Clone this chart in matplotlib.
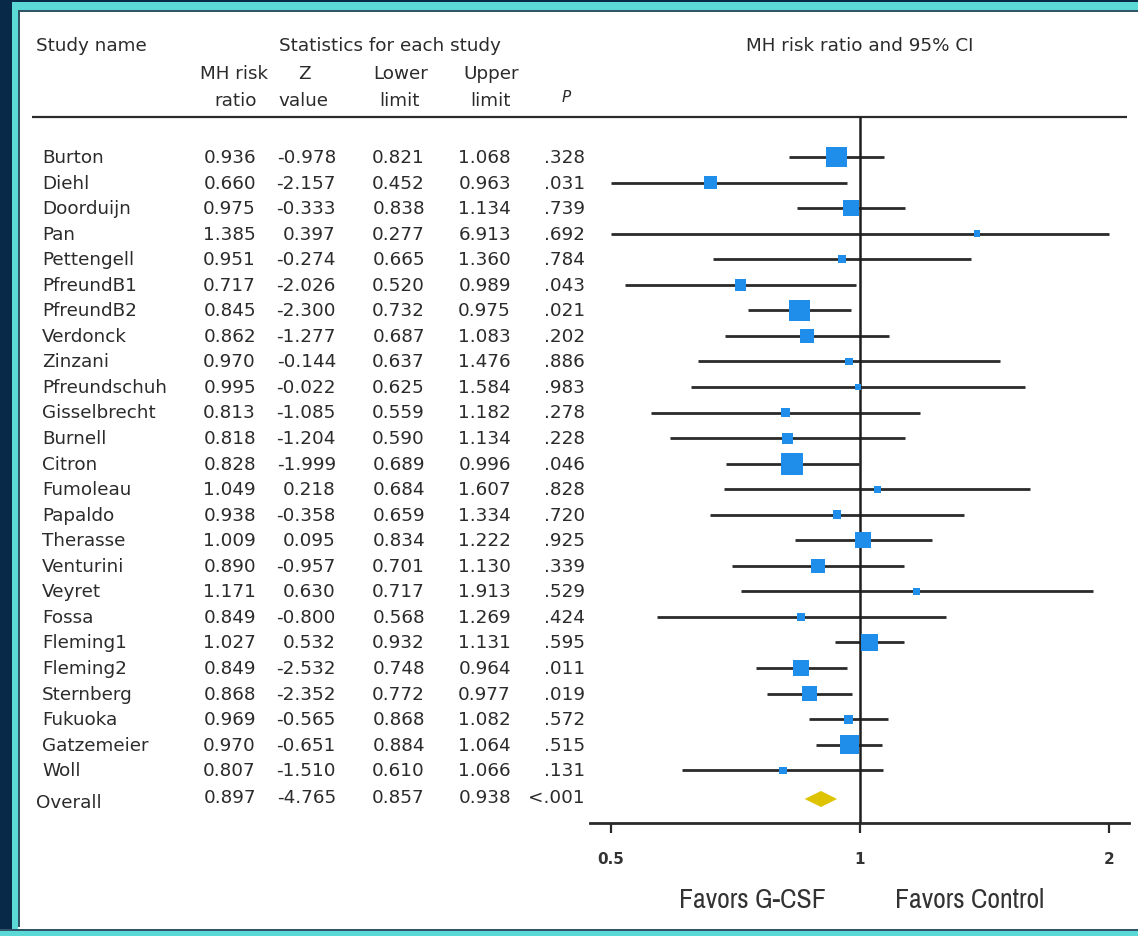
import numpy as np
import matplotlib
matplotlib.use("Agg")
import matplotlib.pyplot as plt
from matplotlib import font_manager
from matplotlib.patches import Rectangle, Polygon
from matplotlib.ticker import FixedLocator, FixedFormatter, NullLocator

# ---- study data ----
studies = ["Burton", "Diehl", "Doorduijn", "Pan", "Pettengell", "PfreundB1",
           "PfreundB2", "Verdonck", "Zinzani", "Pfreundschuh", "Gisselbrecht",
           "Burnell", "Citron", "Fumoleau", "Papaldo", "Therasse", "Venturini",
           "Veyret", "Fossa", "Fleming1", "Fleming2", "Sternberg", "Fukuoka",
           "Gatzemeier", "Woll"]
risk_ratio = [0.936, 0.660, 0.975, 1.385, 0.951, 0.717, 0.845, 0.862, 0.970,
              0.995, 0.813, 0.818, 0.828, 1.049, 0.938, 1.009, 0.890, 1.171,
              0.849, 1.027, 0.849, 0.868, 0.969, 0.970, 0.807]
z_value = [-0.978, -2.157, -0.333, 0.397, -0.274, -2.026, -2.300, -1.277,
           -0.144, -0.022, -1.085, -1.204, -1.999, 0.218, -0.358, 0.095,
           -0.957, 0.630, -0.800, 0.532, -2.532, -2.352, -0.565, -0.651, -1.510]
lower_limit = [0.821, 0.452, 0.838, 0.277, 0.665, 0.520, 0.732, 0.687, 0.637,
               0.625, 0.559, 0.590, 0.689, 0.684, 0.659, 0.834, 0.701, 0.717,
               0.568, 0.932, 0.748, 0.772, 0.868, 0.884, 0.610]
upper_limit = [1.068, 0.963, 1.134, 6.913, 1.360, 0.989, 0.975, 1.083, 1.476,
               1.584, 1.182, 1.134, 0.996, 1.607, 1.334, 1.222, 1.130, 1.913,
               1.269, 1.131, 0.964, 0.977, 1.082, 1.064, 1.066]
p_value = [".328", ".031", ".739", ".692", ".784", ".043", ".021", ".202",
           ".886", ".983", ".278", ".228", ".046", ".828", ".720", ".925",
           ".339", ".529", ".424", ".595", ".011", ".019", ".572", ".515", ".131"]
# relative study weights (%), shown as the area of each square
weight = [10.2, 3.9, 5.9, 1.0, 1.4, 3.3, 10.2, 4.5, 1.4, 0.9, 1.7, 2.8, 11.2,
          1.1, 1.7, 5.9, 4.5, 1.0, 1.4, 6.7, 5.9, 5.2, 1.9, 8.3, 1.2]

overall_label = "Overall"
overall_rr = 0.897
overall_z = -4.765
overall_lower = 0.857
overall_upper = 0.938
overall_p = "<.001"

x_ticks = [0.5, 1, 2]
x_tick_labels = ["0.5", "1", "2"]

# ---- canvas ----
W, H = 1138, 937
DPI = 100
fig = plt.figure(figsize=(W / DPI, H / DPI), dpi=DPI)
fig.patch.set_facecolor("white")

BODY = "DejaVu Sans"
INK = "#2b2b2b"
FS = 13.2


def pick_condensed():
    """Return (family, stretch) for a narrow sans face, if one is installed."""
    for f in font_manager.fontManager.ttflist:
        nm = f.name.lower()
        if ("narrow" in nm or "condensed" in nm) and f.style == "normal":
            return f.name, "normal"
    for f in font_manager.fontManager.ttflist:
        if str(f.stretch) in ("condensed", "semi-condensed") and f.style == "normal":
            return f.name, f.stretch
    return "Roboto", "normal"


NARROW, NARROW_STRETCH = pick_condensed()
NARROW_FS = 20 if NARROW != "Roboto" else 17

tab = fig.add_axes([0, 0, 1, 1])
tab.set_xlim(0, W)
tab.set_ylim(H, 0)
tab.axis("off")

# frame around the panel
NAVY, CYAN, EDGE = "#082a48", "#5ad9d6", "#2f5566"
for (x0, y0, w, h, c) in [
        (0, 0, W, 3, NAVY), (0, 3, W, 8, CYAN), (0, 11, W, 1.6, EDGE),
        (0, 0, 12, H, NAVY), (12, 3, 6.5, H - 3, CYAN), (18.5, 11, 1.5, H - 20, EDGE),
        (0, 930, W, 1.5, EDGE), (0, 931.5, W, 5.5, CYAN)]:
    tab.add_patch(Rectangle((x0, y0), w, h, facecolor=c, edgecolor="none", zorder=5))

# ---- row layout (pixel rows) ----
n = len(studies)
ROW0, STEP = 158.0, 25.55
rows_y = ROW0 + STEP * np.arange(n)
overall_y = 800.0

# column anchors
X_NAME = 42
X_RR, X_Z, X_LO, X_UP, X_P = 256, 336, 425, 511, 585


def put(x, y, s, ha="left", **kw):
    kw.setdefault("fontsize", FS)
    kw.setdefault("color", INK)
    kw.setdefault("family", BODY)
    tab.text(x, y, s, ha=ha, va="center", **kw)


# headers
put(36, 46, "Study name")
put(390, 46, "Statistics for each study", ha="center")
put(860, 46, "MH risk ratio and 95% CI", ha="center")
put(234, 74, "MH risk", ha="center")
put(236, 101, "ratio", ha="center")
put(304, 74, "Z", ha="center")
put(303, 101, "value", ha="center")
put(401, 74, "Lower", ha="center")
put(400, 101, "limit", ha="center")
put(491, 74, "Upper", ha="center")
put(491, 101, "limit", ha="center")
put(566, 98, "P", ha="center", style="italic", fontsize=11)
tab.plot([32, 1127], [118, 118], color=INK, lw=1.6, solid_capstyle="butt")

# table body
for i in range(n):
    y = rows_y[i]
    put(X_NAME, y, studies[i])
    put(X_RR, y, f"{risk_ratio[i]:.3f}", ha="right")
    put(X_Z, y, f"{z_value[i]:.3f}", ha="right")
    put(X_LO, y, f"{lower_limit[i]:.3f}", ha="right")
    put(X_UP, y, f"{upper_limit[i]:.3f}", ha="right")
    put(X_P, y, p_value[i], ha="right")

put(36, overall_y + 3, overall_label)
put(X_RR, overall_y - 2, f"{overall_rr:.3f}", ha="right")
put(X_Z, overall_y - 2, f"{overall_z:.3f}", ha="right")
put(X_LO, overall_y - 2, f"{overall_lower:.3f}", ha="right")
put(X_UP, overall_y - 2, f"{overall_upper:.3f}", ha="right")
put(X_P, overall_y - 2, overall_p, ha="right")

# ---- forest panel (log scale) ----
PX_L, PX_R, PX_T, PX_B = 590, 1129, 118, 824
fa = fig.add_axes([PX_L / W, (H - PX_B) / H, (PX_R - PX_L) / W, (PX_B - PX_T) / H])
fa.set_xscale("log")
fa.set_xlim(0.4716, 2.114)
fa.set_ylim(PX_B, PX_T)
fa.patch.set_alpha(0)

lo = np.clip(lower_limit, 0.5, 2.0)
hi = np.clip(upper_limit, 0.5, 2.0)
fa.hlines(rows_y, lo, hi, color="#2a2a2a", lw=2.0, zorder=2)
fa.axvline(1, color="#1e1e1e", lw=1.8, zorder=3)

side_px = 22.0 * np.sqrt(np.asarray(weight) / max(weight))
side_pt = side_px * 72.0 / DPI
fa.scatter(risk_ratio, rows_y, s=side_pt ** 2, marker="s", color="#1f8eea",
           edgecolors="none", zorder=4)

half_h = 8.0
fa.add_patch(Polygon([(overall_lower, overall_y), (overall_rr, overall_y - half_h),
                      (overall_upper, overall_y), (overall_rr, overall_y + half_h)],
                     closed=True, facecolor="#dec400", edgecolor="none", zorder=4))

for side in ("top", "left", "right"):
    fa.spines[side].set_visible(False)
fa.spines["bottom"].set_linewidth(2.0)
fa.spines["bottom"].set_color("#2a2a2a")
fa.yaxis.set_visible(False)
fa.xaxis.set_major_locator(FixedLocator(x_ticks))
fa.xaxis.set_major_formatter(FixedFormatter(x_tick_labels))
fa.xaxis.set_minor_locator(NullLocator())
fa.tick_params(axis="x", direction="out", length=7, width=1.6, color="#2a2a2a",
               pad=13, labelsize=11, labelcolor="#333333")
for lab in fa.get_xticklabels():
    lab.set_fontweight("bold")
    lab.set_family(BODY)

# direction labels
tab.text(752, 901, "Favors G-CSF", ha="center", va="center", fontsize=NARROW_FS,
         color="#333333", family=NARROW, fontstretch=NARROW_STRETCH)
tab.text(970, 901, "Favors Control", ha="center", va="center", fontsize=NARROW_FS,
         color="#333333", family=NARROW, fontstretch=NARROW_STRETCH)

fig.savefig("out.png", dpi=DPI, facecolor="white")
